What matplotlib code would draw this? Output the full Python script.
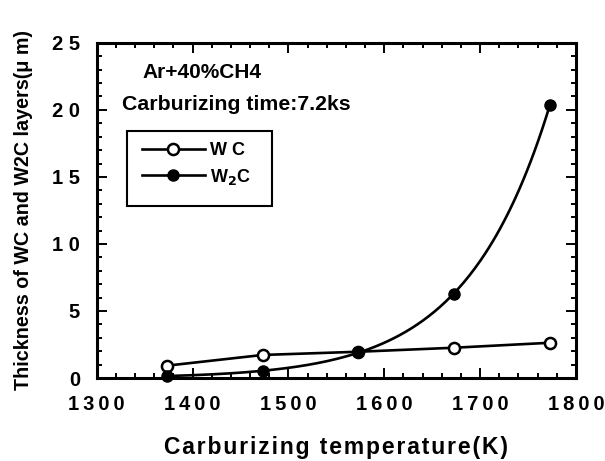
import numpy as np
import matplotlib
matplotlib.use("Agg")
import matplotlib.pyplot as plt
from matplotlib.patches import Rectangle
from matplotlib.ticker import MultipleLocator, FixedLocator, FixedFormatter

plt.rcParams["font.family"] = ["Liberation Sans", "DejaVu Sans"]
plt.rcParams["font.weight"] = "bold"

# carburizing temperature (K)
temps = [1373, 1473, 1573, 1673, 1773]
# layer thickness (um)
wc = [0.92, 1.72, 1.96, 2.26, 2.63]
w2c = [0.15, 0.52, 1.96, 6.27, 20.4]

y_ticks = [0, 5, 10, 15, 20, 25]
y_labels = ["0", "5", "1 0", "1 5", "2 0", "2 5"]
x_ticks = [1300, 1400, 1500, 1600, 1700, 1800]


def tracked(s, sep="\u2009"):
    # the scan uses wide letter spacing
    return sep.join(s)


fig = plt.figure(figsize=(6.05, 4.61), dpi=100)
ax = fig.add_axes([0.160, 0.180, 0.792, 0.727])

lw = 1.9
ax.plot(temps, wc, color="black", lw=lw, marker="o", ms=8, mfc="white",
        mec="black", mew=1.8, label="W C", clip_on=False, zorder=3)

# smooth trend curve through the W2C points (fit in log space)
coef = np.polyfit(temps, np.log(w2c), 2)
tt = np.linspace(temps[0], temps[-1], 200)
ax.plot(tt, np.exp(np.polyval(coef, tt)), color="black", lw=lw, zorder=2,
        clip_on=False)
ax.plot(temps, w2c, ls="none", marker="o", ms=8, mfc="black", mec="black",
        clip_on=False, zorder=4)
# legend proxy for W2C
ax.plot([], [], color="black", lw=lw, marker="o", ms=8, mfc="black",
        mec="black", label="W$_2$C")

ax.set_xlim(1300, 1800)
ax.set_ylim(0, 25)
ax.xaxis.set_major_locator(FixedLocator(x_ticks))
ax.xaxis.set_major_formatter(FixedFormatter([tracked(str(t)) for t in x_ticks]))
ax.xaxis.set_minor_locator(MultipleLocator(20))
ax.yaxis.set_major_locator(FixedLocator(y_ticks))
ax.yaxis.set_major_formatter(FixedFormatter(y_labels))
ax.yaxis.set_minor_locator(MultipleLocator(1))

ax.tick_params(which="both", direction="in", top=True, right=True,
               width=1.4, labelsize=14.5)
ax.tick_params(which="major", length=7)
ax.tick_params(which="minor", length=3.5)
ax.tick_params(axis="x", pad=12)
ax.tick_params(axis="y", pad=12)
for lab in ax.get_xticklabels() + ax.get_yticklabels():
    lab.set_fontweight("bold")
for sp in ax.spines.values():
    sp.set_linewidth(2.2)

ax.set_xlabel(tracked("Carburizing temperature(K)", "\u200a"), fontsize=16.5,
              fontweight="bold", labelpad=16)
ax.set_ylabel("Thickness of WC and W2C layers(\u03bc m)", fontsize=14.2,
              fontweight="bold", labelpad=14)

ax.text(0.096, 0.913, "Ar+40%CH4", transform=ax.transAxes, fontsize=15,
        fontweight="bold", va="center")
ax.text(0.052, 0.815, "Carburizing time:7.2ks", transform=ax.transAxes,
        fontsize=15.3, fontweight="bold", va="center")

leg = ax.legend(loc="upper left", bbox_to_anchor=(0.094, 0.703), fontsize=13,
                handlelength=3.5, handletextpad=0.28, borderpad=0,
                borderaxespad=0, labelspacing=0.4, frameon=False)
for t in leg.get_texts():
    t.set_fontweight("bold")
ax.add_patch(Rectangle((0.0626, 0.513), 0.302, 0.224, transform=ax.transAxes,
                       fill=False, ec="black", lw=1.5, zorder=5))

fig.savefig("out.png", dpi=100)
